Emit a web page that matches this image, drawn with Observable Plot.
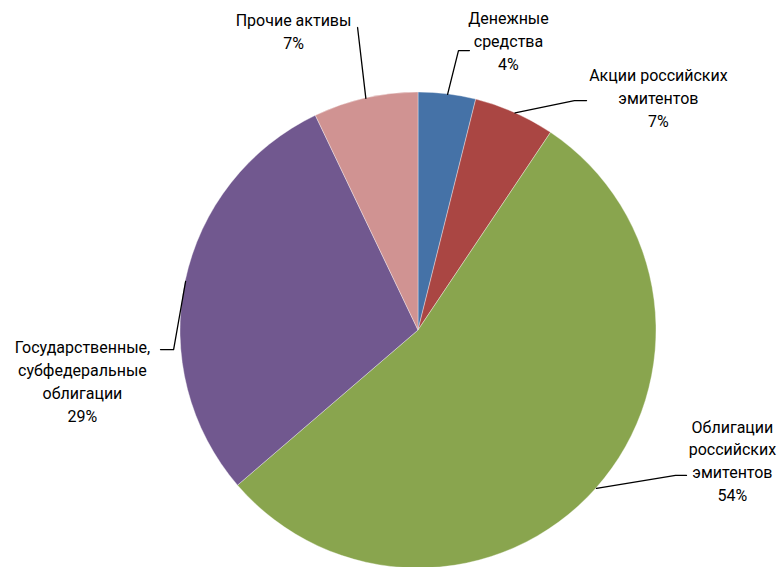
<!DOCTYPE html>
<html>
<head>
<meta charset="utf-8">
<script src="https://cdn.jsdelivr.net/npm/d3@7"></script>
<script src="https://cdn.jsdelivr.net/npm/@observablehq/plot@0.6"></script>
<style>
  html, body { margin: 0; padding: 0; background: #fff; }
  #chart { width: 783px; height: 567px; overflow: hidden; }
</style>
</head>
<body>
<div id="chart"></div>
<script>
// ---- data ----
const categories = [
  "Денежные средства",
  "Акции российских эмитентов",
  "Облигации российских эмитентов",
  "Государственные, субфедеральные облигации",
  "Прочие активы"
];
const shares = [3.9, 5.5, 54.3, 29.2, 7.1];
const percentLabels = ["4%", "7%", "54%", "29%", "7%"];
const labelLines = [
  ["Денежные", "средства"],
  ["Акции российских", "эмитентов"],
  ["Облигации", "российских", "эмитентов"],
  ["Государственные,", "субфедеральные", "облигации"],
  ["Прочие активы"]
];
const colors = ["#4572A7", "#AA4643", "#89A54E", "#71588F", "#D09392"];

// ---- label layout (in radius units, pie centre = 0,0) ----
const labelCenter = [[0.378, 1.222], [1.008, 0.983], [1.319, -0.542], [-1.412, -0.210], [-0.525, 1.262]];
const leaderElbow = [[0.168, 1.176], [0.655, 0.966], [1.080, -0.609], [-1.029, -0.080], [-0.256, 1.273]];
const leaderEnd   = [[0.214, 1.176], [0.706, 0.966], [1.126, -0.609], [-1.084, -0.080], [-0.256, 1.273]];

const pie = d3.pie().sort(null).value(d => d.value);
const arcs = pie(categories.map((c, i) => ({category: c, value: shares[i], color: colors[i]})));

const leaders = [];
arcs.forEach((a, i) => {
  const mid = (a.startAngle + a.endAngle) / 2;
  leaders.push({k: i, x: Math.sin(mid), y: Math.cos(mid)});
  leaders.push({k: i, x: leaderElbow[i][0], y: leaderElbow[i][1]});
  leaders.push({k: i, x: leaderEnd[i][0], y: leaderEnd[i][1]});
});

const labels = categories.map((c, i) => ({
  x: labelCenter[i][0], y: labelCenter[i][1],
  text: labelLines[i].join("\n") + "\n" + percentLabels[i]
}));

function pieMark(index, scales) {
  const cx = scales.x(0), cy = scales.y(0);
  const r = scales.x(1) - scales.x(0);
  const arcGen = d3.arc().innerRadius(0).outerRadius(r);
  const g = d3.create("svg:g").attr("transform", `translate(${cx},${cy})`);
  g.selectAll("path").data(arcs).join("path")
    .attr("d", arcGen)
    .attr("fill", d => d.data.color)
    .attr("stroke", "#ffffff")
    .attr("stroke-opacity", 0.6)
    .attr("stroke-width", 0.6);
  return g.node();
}

const chart = Plot.plot({
  width: 783,
  height: 567,
  x: {domain: [-1, 1], range: [180, 656], axis: null},
  y: {domain: [-1, 1], range: [568, 92], axis: null},
  style: {fontFamily: "Roboto, 'Noto Sans', sans-serif", fontSize: "16px", background: "#fff", overflow: "hidden"},
  marks: [
    pieMark,
    Plot.line(leaders, {x: "x", y: "y", z: "k", stroke: "#000", strokeWidth: 1.3}),
    Plot.text(labels, {x: "x", y: "y", text: "text", textAnchor: "middle", lineAnchor: "middle", lineHeight: 1.43, fill: "#000", fontSize: 16})
  ]
});
document.getElementById("chart").appendChild(chart);
</script>
</body>
</html>
